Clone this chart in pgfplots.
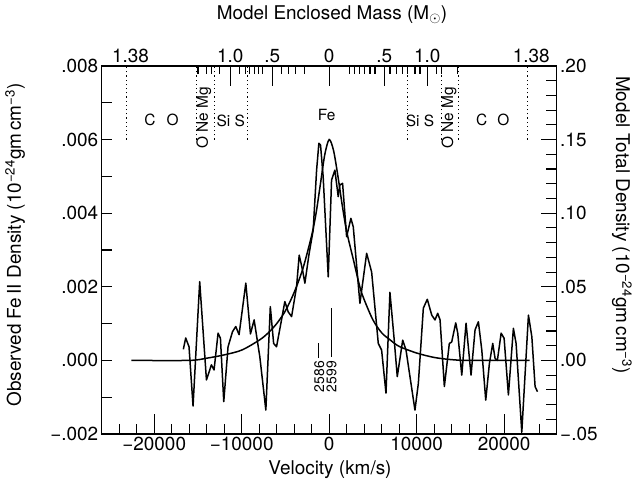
\documentclass[border=0pt]{standalone}
\usepackage{pgfplots}
\pgfplotsset{compat=1.18}
\usepackage{fontspec}
\setmainfont{TeX Gyre Heros}
\begin{document}
\begin{tikzpicture}[font=\fontsize{19}{22}\selectfont]
\useasboundingbox (-101.7bp,-53bp) rectangle (535.3bp,434bp);
\pgfplotsset{base/.style={scale only axis, width=455bp, height=368bp, at={(0,0)}, anchor=south west,
  xmin=-26000, xmax=26000, axis line style={line width=1.3bp}, tick style={black, line width=1.1bp},
  tick align=inside, scaled ticks=false}}
% bottom axis + data
\begin{axis}[base, ymin=-0.002, ymax=0.008, ytick=\empty,
  xtick={-20000,-10000,0,10000,20000}, xticklabels={−20000,−10000,0,10000,20000},
  minor xtick={-24000,-22000,-18000,-16000,-14000,-12000,-8000,-6000,-4000,-2000,2000,4000,6000,8000,12000,14000,16000,18000,22000,24000},
  xtick pos=bottom, major tick length=20bp, minor tick length=10bp]
\addplot[line width=1.5bp, line join=round] coordinates {
(-16670,0.00030) (-16400,0.00061) (-16020,0.00037) (-15560,-0.00124) (-14800,0.00214) (-14030,-0.00053)
(-13460,-0.00012) (-13160,-0.00026) (-12700,0.00074) (-12430,0.00060) (-12050,-0.00112) (-11560,0.00037)
(-11050,0.00078) (-10680,0.00092) (-10300,0.00070) (-9530,0.00210) (-9000,0.00072) (-8580,0.00110)
(-7930,0.00010) (-7240,-0.00135) (-6730,0.00146) (-6350,0.00046) (-6020,0.00037) (-5450,0.00110)
(-5070,0.00160) (-4690,0.00132) (-4300,0.00119) (-3730,0.00200) (-3430,0.00286) (-3050,0.00246)
(-2780,0.00210) (-2290,0.00291) (-1830,0.00354) (-1440,0.00517) (-1180,0.00590) (-990,0.00585)
(-690,0.00499) (-110,0.00227) (270,0.00490) (650,0.00517) (1030,0.00445) (1220,0.00477) (1530,0.00481)
(1990,0.00336) (2480,0.00386) (2750,0.00363) (3510,0.00155) (4280,0.00291) (4850,0.00240)
(5610,0.00046) (5990,0.00028) (6490,-0.00089) (6940,0.00185) (7400,0.00064) (7780,-0.00044)
(8400,0.00055) (8780,0.00028) (9800,-0.00135) (10190,-0.00062) (10760,0.00142) (11210,0.00166)
(11720,0.00123) (12090,0.00110) (12400,0.00128) (12670,0.00110) (13160,-0.00071) (13730,0.00046)
(14000,0.00050) (14460,0.00102) (14690,0.00074) (15150,-0.00040) (15640,0.00101) (15900,0.00037)
(16210,-0.00040) (16670,0.00083) (17050,0.00105) (17440,0.00028) (17890,-0.00108) (18310,-0.00008)
(18690,0.00046) (18960,0.00005) (19220,0.00000) (19650,0.00074) (19990,0.00060) (20480,-0.00094)
(21050,0.00087) (21360,0.00046) (22010,-0.00195) (22770,0.00123) (23160,0.00064) (23530,-0.00071)
(23800,-0.00085)};
\addplot[line width=1.5bp, smooth] coordinates {
(-22600,0) (-16000,0) (-14000,0.00006) (-12000,0.00015) (-10000,0.00028) (-8000,0.00055)
(-7000,0.00074) (-6000,0.00100) (-5000,0.00135) (-4000,0.00185) (-3000,0.00250) (-2000,0.00340)
(-1500,0.00400) (-1000,0.00480) (-500,0.00560) (0,0.00600) (500,0.00570) (1000,0.00500)
(1500,0.00420) (2000,0.00350) (2750,0.00275) (3500,0.00200) (4000,0.00165) (5000,0.00110)
(6000,0.00075) (7000,0.00055) (8000,0.00038) (10000,0.00020) (12000,0.00008) (14000,0.00002)
(16000,0) (22900,0)};
% dotted composition boundaries
\foreach \v in {-23150,-15130,-13120,-9300,8960,12800,14800,22700}{
  \edef\tmp{\noexpand\addplot[line width=1.2bp, dash pattern=on 1.2bp off 3bp] coordinates {(\v,0.006) (\v,0.008)};}
  \tmp
}
% line markers
\addplot[line width=1.1bp] coordinates {(-1250,0.00006) (-1250,0.00046)};
\addplot[line width=1.1bp] coordinates {(275,0.0001) (275,0.00142)};
\begin{scope}[font=\fontsize{15.5}{18}\selectfont]
\node at (axis cs:-20500,0.00653) {C};
\node at (axis cs:-17900,0.00653) {O};
\node at (axis cs:17430,0.00653) {C};
\node at (axis cs:19900,0.00653) {O};
\node at (axis cs:-11250,0.00650) {Si S};
\node at (axis cs:10380,0.00650) {Si S};
\node at (axis cs:-300,0.00667) {Fe};
\node[rotate=90] at (axis cs:-14340,0.00659) {O Ne Mg};
\node[rotate=90] at (axis cs:13700,0.00659) {O Ne Mg};
\end{scope}
\begin{scope}[font=\fontsize{14}{16}\selectfont]
\node[rotate=90] at (axis cs:-1140,-0.00044) {2586};
\node[rotate=90] at (axis cs:270,-0.00044) {2599};
\end{scope}
\end{axis}
% left axis
\begin{axis}[base, ymin=-0.002, ymax=0.008, xtick=\empty,
  ytick={-0.002,0,0.002,0.004,0.006,0.008}, yticklabels={−.002,.000,.002,.004,.006,.008},
  minor ytick={-0.001,0.001,0.003,0.005,0.007},
  ytick pos=left, major tick length=10bp, minor tick length=10bp]
\end{axis}
% right axis
\begin{axis}[base, ymin=-0.05, ymax=0.2, xtick=\empty,
  ytick={-0.05,0,0.05,0.1,0.15,0.2}, yticklabels={−.05,.00,.05,.10,.15,.20},
  minor ytick={-0.04,-0.03,-0.02,-0.01,0.01,0.02,0.03,0.04,0.06,0.07,0.08,0.09,0.11,0.12,0.13,0.14,0.16,0.17,0.18,0.19},
  ytick pos=right, yticklabel pos=right, major tick length=16bp, minor tick length=11bp]
\end{axis}
% top axis (mass)
\begin{axis}[base, ymin=0, ymax=1, ytick=\empty,
  xtick={-11300,-6500,0,6300,11200}, xticklabels={1.0,.5,0,.5,1.0},
  minor xtick={-15000,-14000,-13500,-12500,-10220,-9530,-9150,-8500,-8100,-7600,-5450,-4610,-3810,-2860,
    2370,2940,3510,4080,4660,5230,6950,7710,8400,8920,9800,10380,12290,12860,14690},
  extra x ticks={-22700,23100}, extra x tick labels={1.38,1.38},
  extra x tick style={major tick length=0pt},
  xtick pos=top, xticklabel pos=top, major tick length=20bp, minor tick length=8bp]
\end{axis}
\node[rotate=90] at (-86.7bp,189bp) {Observed Fe\,II Density (10\textsuperscript{−24}gm\,cm\textsuperscript{−3})};
\node[rotate=-90] at (520.3bp,209bp) {Model Total Density (10\textsuperscript{−24}gm\,cm\textsuperscript{−3})};
\node at (230.3bp,419bp) {Model Enclosed Mass (M$_{\odot}$)};
\node at (228.3bp,-36bp) {Velocity (km/s)};
\end{tikzpicture}
\end{document}
